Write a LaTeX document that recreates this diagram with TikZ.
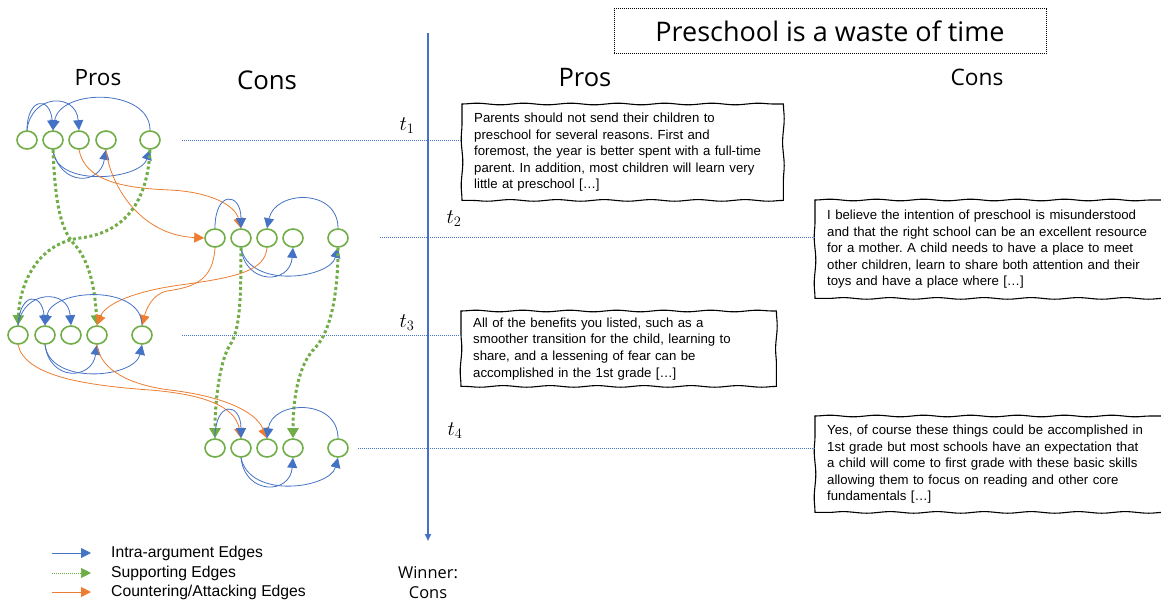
\documentclass[tikz,border=0pt]{standalone}
\usepackage{fontspec}
\setmainfont{Liberation Sans}
\newfontfamily\segoe{Open Sans}
\usetikzlibrary{shapes.geometric,arrows.meta,decorations.pathmorphing}
\definecolor{blu}{HTML}{4472C4}
\definecolor{org}{HTML}{ED7D31}
\definecolor{grn}{HTML}{70AD47}
\frenchspacing
\tikzset{
  arg/.style={ellipse, draw=grn, line width=1.6pt, minimum width=20pt, minimum height=18pt, inner sep=0pt},
  intra/.style={draw=blu, line width=0.8pt, -{Triangle[length=10pt,width=10pt]}},
  counter/.style={draw=org, line width=0.8pt, -{Triangle[length=10pt,width=10pt]}},
  support/.style={draw=grn, line width=3pt, dash pattern=on 3pt off 2.6pt, -{Triangle[length=10pt,width=11pt]}},
  guide/.style={draw=blu, line width=0.6pt, dash pattern=on 1pt off 1pt},
  timeline/.style={draw=blu, line width=1.8pt, -{Triangle[length=7pt,width=6pt]}},
  tbox/.style={anchor=north west, align=left, inner xsep=12pt, inner ysep=0pt, font=\fontsize{13.2}{16.6}\selectfont},
  sketch/.style={draw, line width=1.1pt, line cap=round, decorate, decoration={snake, amplitude=0.8pt, segment length=47pt}},
  lbl/.style={inner sep=0pt},
  legtext/.style={inner sep=0pt, anchor=west, font=\fontsize{15.7}{18}\selectfont},
}
\begin{document}
\begin{tikzpicture}[x=1pt,y=-1pt]
\useasboundingbox (0,0) rectangle (1161,603);

% headers
\node[draw, line width=0.6pt, dash pattern=on 1pt off 1pt, minimum width=432pt, minimum height=45pt, inner sep=0pt,
  font=\segoe\fontsize{27}{32}\selectfont] (title) at (830,31) {Preschool is a waste of time};
\node[lbl, font=\segoe\fontsize{22.5}{26}\selectfont] (prosL) at (98,78) {Pros};
\node[lbl, font=\segoe\fontsize{25.8}{30}\selectfont] (consL) at (267,80) {Cons};
\node[lbl, font=\segoe\fontsize{25.5}{30}\selectfont] (prosR) at (585,78) {Pros};
\node[lbl, font=\segoe\fontsize{22.7}{26}\selectfont] (consR) at (977,77) {Cons};

% timeline
\coordinate (tl0) at (428,33);
\coordinate (tl1) at (428,541);
\draw[timeline] (tl0) -- (tl1);
\node[lbl, font=\fontsize{20}{22}\selectfont] (t1) at (407,126) {$t_1$};
\node[lbl, font=\fontsize{20}{22}\selectfont] (t2) at (454,219) {$t_2$};
\node[lbl, font=\fontsize{20}{22}\selectfont] (t3) at (407,323) {$t_3$};
\node[lbl, font=\fontsize{20}{22}\selectfont] (t4) at (455,431) {$t_4$};
\node[lbl, align=center, font=\segoe\fontsize{16.4}{20}\selectfont] (win) at (428,583) {Winner:\\Cons};

% text boxes
\node[tbox, text width=297pt, minimum height=96pt] (box1) at (462,104)
 {Parents should not send their children to\\preschool for several reasons. First and\\foremost, the year is better spent with a full-time\\parent. In addition, most children will learn very\\little at preschool [\dots]};
\node[tbox, text width=324pt, minimum height=98pt] (box2) at (815,200)
 {I believe the intention of preschool is misunderstood\\and that the right school can be an excellent resource\\for a mother. A child needs to have a place to meet\\other children, learn to share both attention and their\\toys and have a place where [\dots]};
\node[tbox, text width=291pt, minimum height=75pt] (box3) at (461,311)
 {All of the benefits you listed, such as a\\smoother transition for the child, learning to\\share, and a lessening of fear can be\\accomplished in the 1st grade [\dots]};
\node[tbox, text width=324pt, minimum height=96pt] (box4) at (815,416)
 {Yes, of course these things could be accomplished in\\1st grade but most schools have an expectation that\\a child will come to first grade with these basic skills\\allowing them to focus on reading and other core\\fundamentals [\dots]};
\foreach \b in {box1,box2,box3,box4} {
  \draw[sketch] (\b.north west) -- (\b.north east);
  \draw[sketch] (\b.north east) -- (\b.south east);
  \draw[sketch] (\b.south east) -- (\b.south west);
  \draw[sketch] (\b.south west) -- (\b.north west);
}

% guides
\coordinate (h1) at (182,140);
\coordinate (h2) at (380,237);
\coordinate (h3) at (182,335);
\coordinate (h4) at (358,448);
\draw[guide] (h1) -- (h1 -| box1.west);
\draw[guide] (h2) -- (h2 -| box2.west);
\draw[guide] (h3) -- (h3 -| box3.west);
\draw[guide] (h4) -- (h4 -| box4.west);

% argument nodes
\foreach \n/\x in {1/27,2/53,3/79,4/106,5/150} \node[arg] (a\n) at (\x,140) {};
\foreach \n/\x in {1/215,2/241,3/267,4/293,5/338} \node[arg] (b\n) at (\x,238) {};
\foreach \n/\x in {1/18,2/45,3/71,4/97,5/142} \node[arg] (c\n) at (\x,335) {};
\foreach \n/\x in {1/215,2/241,3/267,4/293,5/338} \node[arg] (d\n) at (\x,448) {};

% group 1
\draw[intra] (a1.north) .. controls (27,98) and (50,95) .. (a2.north);
\draw[intra] (a1.north) .. controls (31,94) and (76,92) .. (a3.north);
\draw[intra] (a5.north) .. controls (150,88) and (60,88) .. (a2.north);
\draw[intra] (a2.south) .. controls (60,186) and (100,186) .. (a4.south);
\draw[intra] (a2.south) .. controls (55,188) and (140,180) .. (a5.south);
\draw[counter] (a3.south) .. controls (85,180) and (120,188) .. (170,190) .. controls (210,192) and (235,205) .. (b2.north);
\draw[counter] (a4.south) .. controls (110,185) and (140,235) .. (b1.west);
\draw[support] (a2.south) .. controls (55,200) and (60,230) .. (75,245) .. controls (90,262) and (95,290) .. (c4.north);
\draw[support] (a5.south) .. controls (148,195) and (130,232) .. (80,238) .. controls (40,243) and (20,280) .. (c1.north);

% group 2
\draw[intra] (b1.north) .. controls (215,190) and (241,192) .. (b2.north);
\draw[intra] (b5.north) .. controls (338,188) and (275,190) .. (b3.north);
\draw[intra] (b2.south) .. controls (245,285) and (290,285) .. (b4.south);
\draw[intra] (b2.south) .. controls (250,290) and (330,278) .. (b5.south);
\draw[counter] (b1.south) .. controls (213,280) and (195,287) .. (167,291) .. controls (152,294) and (146,310) .. (c5.north);
\draw[counter] (b3.south) .. controls (265,270) and (240,277) .. (180,285) .. controls (130,292) and (105,305) .. (c4.north);
\draw[support] (b2.south) .. controls (241,300) and (240,330) .. (230,345) .. controls (220,360) and (215,400) .. (d1.north);
\draw[support] (b5.south) .. controls (338,290) and (332,330) .. (315,348) .. controls (298,365) and (293,400) .. (d4.north);

% group 3
\draw[intra] (c1.north) .. controls (20,292) and (42,292) .. (c2.north);
\draw[intra] (c1.north) .. controls (23,290) and (68,288) .. (c3.north);
\draw[intra] (c5.north) .. controls (142,284) and (52,288) .. (c2.north);
\draw[intra] (c2.south) .. controls (50,382) and (92,380) .. (c4.south);
\draw[intra] (c2.south) .. controls (50,386) and (135,378) .. (c5.south);
\draw[counter] (c1.south) .. controls (25,375) and (80,385) .. (150,390) .. controls (200,394) and (235,405) .. (d2.north);
\draw[counter] (c4.south) .. controls (100,370) and (130,385) .. (170,390) .. controls (220,396) and (255,410) .. (d3.north);

% group 4
\draw[intra] (d1.north) .. controls (215,400) and (241,402) .. (d2.north);
\draw[intra] (d5.north) .. controls (338,398) and (272,400) .. (d3.north);
\draw[intra] (d2.south) .. controls (245,495) and (290,495) .. (d4.south);
\draw[intra] (d2.south) .. controls (250,500) and (330,488) .. (d5.south);

% legend
\node[legtext] (lg1) at (111,553) {Intra-argument Edges};
\node[legtext] (lg2) at (111,573) {Supporting Edges};
\node[legtext] (lg3) at (111,592) {Countering/Attacking Edges};
\coordinate (ls1) at (52,553);
\coordinate (ls2) at (52,573);
\coordinate (ls3) at (52,592);
\draw[intra] (ls1) -- (ls1 -| 91,0);
\draw[draw=grn, line width=0.6pt, dash pattern=on 1pt off 1pt, -{Triangle[length=10pt,width=10pt]}] (ls2) -- (ls2 -| 91,0);
\draw[counter] (ls3) -- (ls3 -| 91,0);
\end{tikzpicture}
\end{document}
